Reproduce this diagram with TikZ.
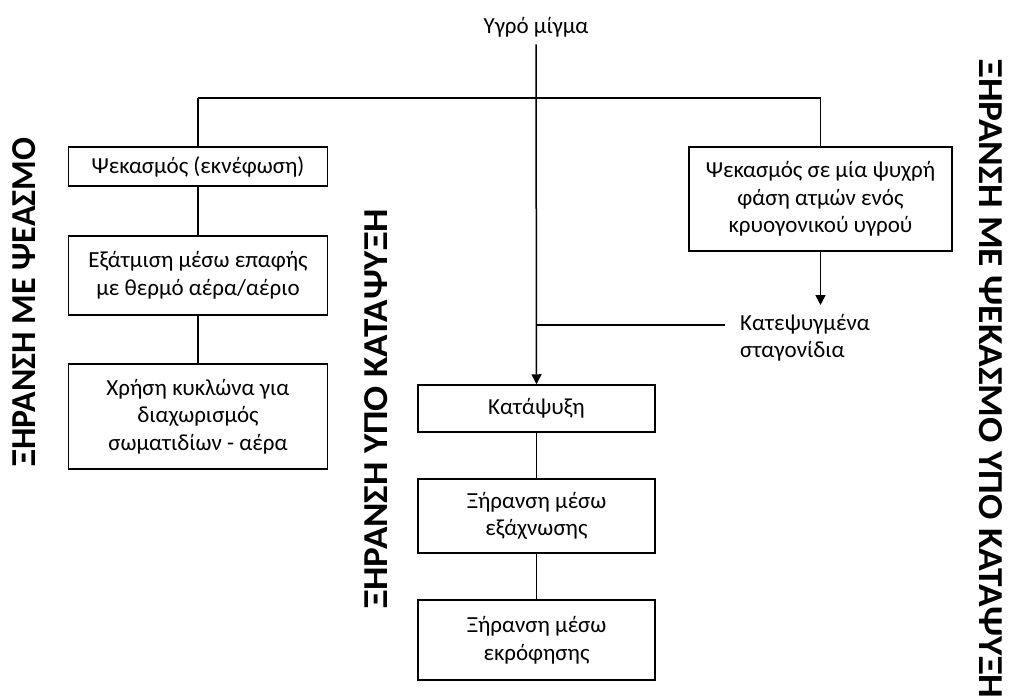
\documentclass[tikz,border=0pt]{standalone}
\usepackage{fontspec}
\setmainfont{Carlito}
\usetikzlibrary{arrows.meta}
\begin{document}
\begin{tikzpicture}[x=1pt,y=-1pt,
  every node/.style={font=\fontsize{23}{27.5}\selectfont, text=black},
  stagebox/.style={draw, line width=1.5pt, align=center, inner sep=0pt},
  sidelabel/.style={font=\fontsize{35}{38}\selectfont\bfseries, inner sep=0pt},
  link/.style={line width=1.5pt},
  flow/.style={line width=1.5pt, -{Triangle[length=10pt,width=10pt]}}]
\useasboundingbox (0,0) rectangle (1011,698);

% feed
\node (mix) at (536,27) {Υγρό μίγμα};

% spray drying branch
\node[stagebox, minimum width=259pt, minimum height=39pt] (spray) at (198,166.5) {Ψεκασμός (εκνέφωση)};
\node[stagebox, minimum width=259pt, minimum height=79pt] (evap) at (198,275.5) {Εξάτμιση μέσω επαφής\\με θερμό αέρα/αέριο};
\node[stagebox, minimum width=259pt, minimum height=105pt] (cyclone) at (198,416.5) {Χρήση κυκλώνα για\\διαχωρισμός\\σωματιδίων - αέρα};

% spray freezing branch
\node[stagebox, minimum width=263pt, minimum height=104pt] (cryo) at (820.5,199) {Ψεκασμός σε μία ψυχρή\\φάση ατμών ενός\\κρυογονικού υγρού};
\node[align=left, anchor=north west, inner sep=0pt] (drops) at (740,314) {Κατεψυγμένα\\σταγονίδια};

% freeze drying branch
\node[stagebox, minimum width=237pt, minimum height=47pt] (freeze) at (536.5,408.5) {Κατάψυξη};
\node[stagebox, minimum width=237pt, minimum height=74pt] (subl) at (536.5,516) {Ξήρανση μέσω\\εξάχνωσης};
\node[stagebox, minimum width=237pt, minimum height=80pt] (desorp) at (536.5,640) {Ξήρανση μέσω\\εκρόφησης};

% side titles
\node[sidelabel, rotate=90, xscale=0.97] (t1) at (24,302) {ΞΗΡΑΝΣΗ ΜΕ ΨΕΑΣΜΟ};
\node[sidelabel, rotate=90, xscale=1.06] (t2) at (376,409) {ΞΗΡΑΝΣΗ ΥΠΟ ΚΑΤΑΨΥΞΗ};
\node[sidelabel, rotate=-90, xscale=1.07] (t3) at (991,379) {ΞΗΡΑΝΣΗ ΜΕ ΨΕΚΑΣΜΟ ΥΠΟ ΚΑΤΑΨΥΞΗ};

% junctions
\coordinate (bl) at (198,98);
\coordinate (br) at (820.5,98);
\coordinate (jn) at (536,325);
\coordinate (dl) at (725,325);
\coordinate (dt) at (820.5,305);

% connectors
\draw[flow] (mix.south) ++(0,4) -- (freeze.north);
\draw[link] (bl) -- (br);
\draw[link] (bl) -- (spray.north);
\draw[link] (br) -- (cryo.north);
\draw[link] (spray) -- (evap);
\draw[link] (evap) -- (cyclone);
\draw[flow] (cryo.south) -- (dt);
\draw[link] (jn) -- (dl);
\draw[link] (freeze) -- (subl);
\draw[link] (subl) -- (desorp);
\end{tikzpicture}
\end{document}
